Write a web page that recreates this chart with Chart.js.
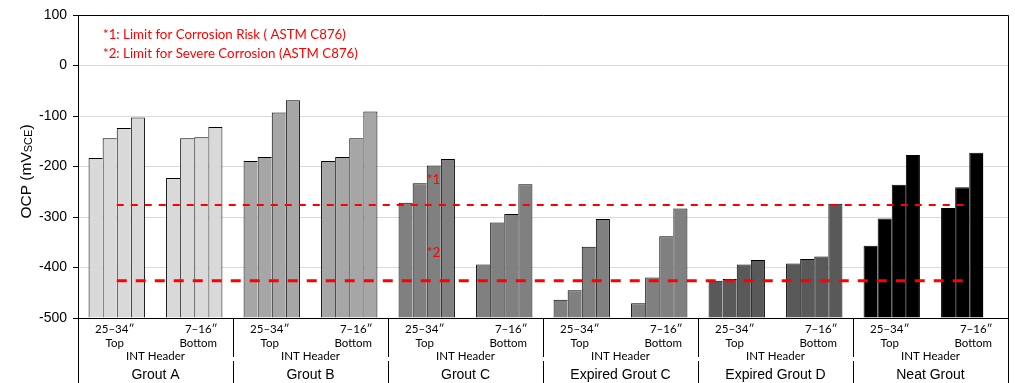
<!DOCTYPE html>
<html>
<head>
<meta charset="utf-8">
<script src="https://cdn.jsdelivr.net/npm/chart.js@4/dist/chart.umd.min.js"></script>
<style>
  html, body { margin: 0; padding: 0; background: #ffffff; }
  #wrap { width: 1015px; height: 383px; }
</style>
</head>
<body>
<div id="wrap"><canvas id="ocp" width="1015" height="383"></canvas></div>
<script>
// Grout types, each measured at two INT header locations
const groups = ['Grout A', 'Grout B', 'Grout C', 'Expired Grout C', 'Expired Grout D', 'Neat Grout'];
const groupColors = ['#d9d9d9', '#a6a6a6', '#808080', '#808080', '#595959', '#000000'];
const positions = ['25–34″', '7–16″'];
const locations = ['Top', 'Bottom'];
const headerLabel = 'INT Header';

// OCP readings (mV vs SCE), one array per reading, one value per grout/location
const reading1 = [-183, -223, -189, -189, -272, -394, -464, -471, -426, -392, -357, -282];
const reading2 = [-144, -144, -181, -181, -233, -311, -445, -420, -423, -383, -303, -241];
const reading3 = [-124, -142, -93, -144, -198, -294, -359, -338, -394, -378, -236, -173];
const reading4 = [-103, -122, -69, -91, -185, -235, -304, -283, -385, -274, -177, null];

// ASTM C876 thresholds converted to SCE
const riskLimit =   [-276, -276, -276, -276, -276, -276, -276, -276, -276, -276, -276, -276];
const severeLimit = [-426, -426, -426, -426, -426, -426, -426, -426, -426, -426, -426, -426];
const limitNotes = ['*1: Limit for Corrosion Risk ( ASTM C876)', '*2: Limit for Severe Corrosion (ASTM C876)'];
const limitMarks = ['*1', '*2'];
const limitMarkValues = [-227, -370];

// Value axis
const yMin = -500;
const yMax = 100;
const yStep = 100;

// One category per grout/location pair
const categories = [];
const barColors = [];
groups.forEach((g, gi) => {
  positions.forEach((p, pi) => {
    categories.push(g + ' ' + locations[pi]);
    barColors.push(groupColors[gi]);
  });
});

const ARIAL = '"Liberation Sans", Arial, sans-serif';
const CAL = 'Lato, "Noto Sans", sans-serif';

const readings = [reading1, reading2, reading3, reading4];
const barSets = readings.map((r, i) => ({
  type: 'bar',
  label: 'Reading ' + (i + 1),
  data: r,
  base: yMin,
  backgroundColor: barColors,
  borderColor: '#000000',
  borderWidth: { top: 1, left: 1, bottom: 0, right: i === readings.length - 1 ? 1 : 0 },
  borderSkipped: false,
  categoryPercentage: 4 / 5.5,
  barPercentage: 1.0,
  order: 2
}));

const lineSets = [
  { type: 'line', label: 'risk', data: riskLimit, borderColor: '#ff0000', borderWidth: 2,
    borderDash: [7, 7], pointRadius: 0, fill: false, order: 0 },
  { type: 'line', label: 'severe', data: severeLimit, borderColor: '#ff0000', borderWidth: 3,
    borderDash: [10, 9], pointRadius: 0, fill: false, order: 0 }
];

const decor = {
  id: 'decor',
  afterDraw(chart) {
    const { ctx, chartArea: a, scales: { x, y } } = chart;
    ctx.save();

    // plot frame (top and right)
    ctx.strokeStyle = '#000000';
    ctx.lineWidth = 1;
    ctx.beginPath();
    ctx.moveTo(a.left, a.top + 0.5);
    ctx.lineTo(a.right + 0.5, a.top + 0.5);
    ctx.lineTo(a.right + 0.5, chart.height);
    ctx.stroke();

    // group dividers below the axis
    const H = chart.height;
    const gw = (a.right - a.left) / groups.length;
    for (let k = 0; k <= groups.length; k++) {
      const px = Math.round(a.left + k * gw) + 0.5;
      ctx.beginPath();
      if (k === 0 || k === groups.length) {
        ctx.moveTo(px, a.bottom); ctx.lineTo(px, H);
      } else {
        ctx.moveTo(px, a.bottom); ctx.lineTo(px, a.bottom + 39);
        ctx.moveTo(px, a.bottom + 43); ctx.lineTo(px, H);
      }
      ctx.stroke();
    }

    // category labels
    ctx.fillStyle = '#000000';
    ctx.textAlign = 'center';
    ctx.textBaseline = 'middle';
    ctx.font = '11.5px ' + CAL;
    categories.forEach((c, i) => {
      const cx = x.getPixelForValue(i);
      const pi = i % 2;
      ctx.fillText(positions[pi], cx + (pi === 0 ? -2 : 7), a.bottom + 11);
      ctx.fillText(locations[pi], cx + (pi === 0 ? -2 : 4), a.bottom + 25);
    });
    groups.forEach((g, gi) => {
      const gx = (x.getPixelForValue(gi * 2) + x.getPixelForValue(gi * 2 + 1)) / 2;
      ctx.font = '11.5px ' + CAL;
      ctx.fillText(headerLabel, gx, a.bottom + 38);
      ctx.font = '14px ' + ARIAL;
      ctx.fillText(g, gx, a.bottom + 57);
    });

    // threshold notes
    ctx.fillStyle = '#ff0000';
    ctx.textAlign = 'left';
    ctx.font = '13.3px ' + CAL;
    ctx.fillText(limitNotes[0], a.left + 25, 35);
    ctx.fillText(limitNotes[1], a.left + 25, 54);
    const mx = x.getPixelForValue(4);
    ctx.font = '13.5px ' + CAL;
    limitMarks.forEach((m, i) => ctx.fillText(m, mx, y.getPixelForValue(limitMarkValues[i])));

    // y-axis title with subscript
    ctx.fillStyle = '#000000';
    const main = 'OCP (mV', sub = 'SCE', close = ')';
    const bigFont = '15.5px ' + ARIAL, smallFont = '11px ' + ARIAL;
    ctx.font = bigFont; const w1 = ctx.measureText(main).width; const w3 = ctx.measureText(close).width;
    ctx.font = smallFont; const w2 = ctx.measureText(sub).width;
    const total = w1 + w2 + w3;
    ctx.translate(31, (a.top + a.bottom) / 2 + 5);
    ctx.rotate(-Math.PI / 2);
    ctx.textBaseline = 'alphabetic';
    let tx = -total / 2;
    ctx.font = bigFont; ctx.fillText(main, tx, 0); tx += w1;
    ctx.font = smallFont; ctx.fillText(sub, tx, 1); tx += w2;
    ctx.font = bigFont; ctx.fillText(close, tx, 0);
    ctx.restore();
  }
};

new Chart(document.getElementById('ocp'), {
  data: { labels: categories, datasets: [...barSets, ...lineSets] },
  options: {
    responsive: false,
    animation: false,
    layout: { padding: { top: 15, right: 7, left: 0, bottom: 0 } },
    plugins: { legend: { display: false }, tooltip: { enabled: false } },
    scales: {
      x: {
        type: 'category',
        offset: true,
        grid: { display: false },
        border: { color: '#000000', width: 1 },
        ticks: { display: false },
        afterFit: (s) => { s.height = 65; }
      },
      y: {
        min: yMin,
        max: yMax,
        ticks: { stepSize: yStep, color: '#000000', padding: 6, font: { family: ARIAL, size: 14 } },
        grid: { color: '#d9d9d9', tickColor: '#000000', tickLength: 5, lineWidth: 1 },
        border: { color: '#000000', width: 1 },
        afterFit: (s) => { s.width = 78; }
      }
    }
  },
  plugins: [decor]
});
</script>
</body>
</html>
